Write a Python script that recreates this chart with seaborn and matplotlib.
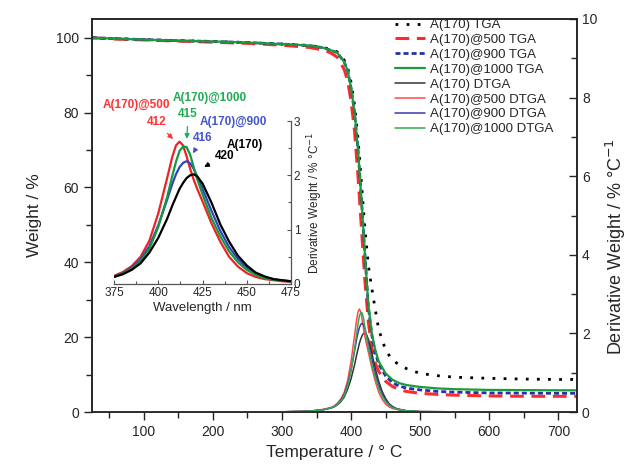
import numpy as np
import pandas as pd
import matplotlib
matplotlib.use('Agg')
import matplotlib.pyplot as plt
from matplotlib.ticker import MultipleLocator
import seaborn as sns

# TGA curves (weight %)
temp_tga = [25, 50, 100, 150, 200, 250, 300, 340, 360, 370, 380, 390, 395, 400, 405, 410,
            415, 420, 425, 430, 435, 440, 450, 460, 470, 480, 500, 525, 550, 600, 650, 700, 727]
tga_a170 = [100, 99.8, 99.5, 99.2, 99.0, 98.7, 98.3, 97.9, 97.4, 96.9, 96.2, 94.0, 92.0, 88.0, 82.0, 73.0,
            61.0, 49.0, 39.0, 33.0, 27.3, 22.0, 16.5, 13.8, 12.6, 11.6, 10.3, 9.7, 9.3, 9.0, 8.8, 8.7, 8.7]
tga_a500 = [100, 99.7, 99.4, 99.1, 98.8, 98.5, 98.0, 97.4, 96.7, 96.0, 94.8, 91.5, 88.5, 83.0, 75.0, 63.0,
            49.0, 35.0, 24.0, 17.0, 13.0, 10.8, 8.2, 6.8, 6.0, 5.5, 5.0, 4.7, 4.5, 4.3, 4.2, 4.2, 4.2]
tga_a900 = [100, 99.8, 99.5, 99.2, 99.0, 98.7, 98.3, 97.9, 97.3, 96.7, 96.0, 93.5, 91.2, 86.5, 80.0, 70.0,
            56.6, 42.0, 28.0, 20.5, 15.8, 12.8, 9.6, 7.8, 6.9, 6.4, 5.9, 5.5, 5.3, 5.1, 5.05, 5.0, 5.0]
tga_a1000 = [100, 99.8, 99.5, 99.2, 99.0, 98.7, 98.3, 97.9, 97.3, 96.7, 96.0, 93.5, 91.2, 86.5, 80.0, 70.0,
             56.6, 42.0, 28.5, 21.0, 16.5, 13.5, 10.3, 8.6, 7.7, 7.2, 6.7, 6.3, 6.1, 5.9, 5.85, 5.8, 5.8]

# DTGA curves (% / °C)
temp_dtga = [25, 100, 200, 300, 340, 360, 370,
             375, 380, 385, 390, 395, 400, 405, 408, 410, 412, 414, 416, 418, 420, 422, 425,
             430, 435, 440, 445, 450, 455, 460, 465, 470, 475,
             480, 490, 500, 550, 600, 650, 700, 727]
dtga_a170 = [0, 0, 0, 0.005, 0.02, 0.06, 0.1,
             0.13, 0.18, 0.26, 0.38, 0.58, 0.85, 1.2, 1.45, 1.6, 1.75, 1.86, 1.95, 2.0, 2.02, 1.98, 1.85,
             1.5, 1.1, 0.78, 0.52, 0.34, 0.21, 0.14, 0.09, 0.07, 0.05,
             0.03, 0.02, 0.01, 0.005, 0, 0, 0, 0]
dtga_a500 = [0, 0, 0, 0.005, 0.02, 0.07, 0.11,
             0.15, 0.22, 0.33, 0.5, 0.8, 1.3, 1.95, 2.35, 2.55, 2.62, 2.55, 2.35, 2.12, 1.92, 1.75, 1.52,
             1.12, 0.78, 0.5, 0.32, 0.2, 0.13, 0.09, 0.07, 0.05, 0.04,
             0.03, 0.02, 0.01, 0.005, 0, 0, 0, 0]
dtga_a900 = [0, 0, 0, 0.005, 0.02, 0.06, 0.1,
             0.13, 0.2, 0.3, 0.45, 0.7, 1.08, 1.55, 1.85, 2.02, 2.15, 2.23, 2.26, 2.22, 2.12, 1.98, 1.75,
             1.35, 0.98, 0.68, 0.46, 0.3, 0.19, 0.12, 0.09, 0.06, 0.05,
             0.03, 0.02, 0.01, 0.005, 0, 0, 0, 0]
dtga_a1000 = [0, 0, 0, 0.005, 0.02, 0.06, 0.1,
              0.13, 0.19, 0.28, 0.42, 0.65, 1.05, 1.6, 2.0, 2.25, 2.45, 2.53, 2.52, 2.38, 2.15, 1.93, 1.65,
              1.22, 0.88, 0.6, 0.4, 0.26, 0.17, 0.11, 0.08, 0.06, 0.05,
              0.03, 0.02, 0.01, 0.005, 0, 0, 0, 0]

sns.set_theme(style='ticks')
plt.rcParams['font.family'] = ['Liberation Sans', 'DejaVu Sans']

fig = plt.figure(figsize=(6.3, 4.69), dpi=100)
ax = fig.add_axes([0.146, 0.1215, 0.77, 0.838])
ax2 = ax.twinx()

# TGA
sns.lineplot(x=temp_tga, y=tga_a170, ax=ax, color='black', lw=2.0, linestyle=(0, (1, 3)),
             label='A(170) TGA', legend=False)
sns.lineplot(x=temp_tga, y=tga_a500, ax=ax, color='#ff2a2a', lw=2.2, linestyle=(0, (4.5, 2.5)),
             label='A(170)@500 TGA', legend=False)
sns.lineplot(x=temp_tga, y=tga_a900, ax=ax, color='#2233aa', lw=2.0, linestyle=(0, (1.8, 1.1)),
             label='A(170)@900 TGA', legend=False)
sns.lineplot(x=temp_tga, y=tga_a1000, ax=ax, color='#1a9a3a', lw=1.6,
             label='A(170)@1000 TGA', legend=False)

# DTGA
dtga_cols = {'A(170) DTGA': ('#333333', dtga_a170),
             'A(170)@500 DTGA': ('#ff4a4a', dtga_a500),
             'A(170)@900 DTGA': ('#3a3aa8', dtga_a900),
             'A(170)@1000 DTGA': ('#33aa55', dtga_a1000)}
for name, (c, vals) in dtga_cols.items():
    sns.lineplot(x=temp_dtga, y=vals, ax=ax2, color=c, lw=1.1, label=name, legend=False)

ax.set_xlim(25, 727)
ax.set_ylim(0, 105)
ax2.set_ylim(0, 10)
ax.xaxis.set_major_locator(MultipleLocator(100))
ax.xaxis.set_minor_locator(MultipleLocator(50))
ax.yaxis.set_major_locator(MultipleLocator(20))
ax.yaxis.set_minor_locator(MultipleLocator(10))
ax2.yaxis.set_major_locator(MultipleLocator(2))
ax2.yaxis.set_minor_locator(MultipleLocator(1))
ax.tick_params(axis='both', which='major', direction='out', length=6, width=1, labelsize=10, color='#222222')
ax.tick_params(axis='both', which='minor', direction='out', length=4, width=1, color='#222222')
ax2.tick_params(axis='y', which='major', direction='in', length=6, width=1, labelsize=10)
ax2.tick_params(axis='y', which='minor', direction='in', length=4, width=1)
for a in (ax, ax2):
    for s in a.spines.values():
        s.set_linewidth(1.1)
        s.set_color('#222222')

ax.set_xlabel('Temperature / ° C', fontsize=12.5)
ax.set_ylabel('Weight / %', fontsize=12.5, labelpad=10)
ax2.set_ylabel('Derivative Weight / % °C$^{-1}$', fontsize=13)
ax2.yaxis.set_label_coords(1.055, 0.42)

h1, l1 = ax.get_legend_handles_labels()
h2, l2 = ax2.get_legend_handles_labels()
ax2.legend(h1 + h2, l1 + l2, loc='upper left', bbox_to_anchor=(395 / 630, 1 - 19 / 469),
           bbox_transform=fig.transFigure, frameon=False, fontsize=9.5, handlelength=2.3,
           handletextpad=0.35, labelspacing=0.2, borderpad=0, borderaxespad=0)

# inset: zoom of DTGA peaks
axi = fig.add_axes([0.181, 0.3945, 0.281, 0.3475])
axi.set_facecolor('none')
inset_cols = [('#ee2222', dtga_a500), ('#3344bb', dtga_a900), ('#119944', dtga_a1000), ('black', dtga_a170)]
for c, vals in inset_cols:
    sns.lineplot(x=temp_dtga, y=vals, ax=axi, color=c, lw=1.6, legend=False)
axi.set_xlim(375, 475)
axi.set_ylim(0, 3)
axi.spines['left'].set_visible(False)
axi.spines['top'].set_visible(False)
for s in ('bottom', 'right'):
    axi.spines[s].set_color('#555555')
    axi.spines[s].set_linewidth(0.9)
axi.yaxis.tick_right()
axi.yaxis.set_label_position('right')
axi.xaxis.set_major_locator(MultipleLocator(25))
axi.xaxis.set_minor_locator(MultipleLocator(12.5))
axi.yaxis.set_major_locator(MultipleLocator(1))
axi.yaxis.set_minor_locator(MultipleLocator(0.5))
axi.tick_params(axis='both', which='major', direction='in', length=3, width=0.8, labelsize=8.5,
                pad=2, color='#555555')
axi.tick_params(axis='both', which='minor', direction='in', length=2, width=0.8, color='#555555')
axi.set_xlabel('Wavelength / nm', fontsize=9.5, labelpad=2)
axi.set_ylabel('Derivative Weight / % °C$^{-1}$', fontsize=8.5)
axi.yaxis.set_label_coords(1.08, 0.5)

kw = dict(fontsize=8.5, fontweight='bold', ha='center', va='center', annotation_clip=False)
axi.annotate('A(170)@500', xy=(387.8, 3.29), xycoords='data', color='#ff3333', **kw)
axi.annotate('412', xy=(409.4, 2.63), xytext=(399.1, 2.98), color='#ff3333',
             arrowprops=dict(arrowstyle='-|>', color='#ff3333', lw=0.9, mutation_scale=7), **kw)
axi.annotate('A(170)@1000', xy=(429.2, 3.43), color='#22aa55', **kw)
axi.annotate('415', xy=(416.0, 2.62), xytext=(416.9, 3.12), color='#22aa55',
             arrowprops=dict(arrowstyle='-|>', color='#22aa55', lw=0.9, mutation_scale=7), **kw)
axi.annotate('A(170)@900', xy=(442.5, 2.98), color='#4455cc', **kw)
axi.annotate('416', xy=(418.8, 2.36), xytext=(424.8, 2.69), color='#4455cc',
             arrowprops=dict(arrowstyle='-|>', color='#4455cc', lw=0.9, mutation_scale=7), **kw)
axi.annotate('A(170)', xy=(448.9, 2.55), color='black', **kw)
axi.annotate('420', xy=(424.5, 2.13), xytext=(437.6, 2.36), color='black',
             arrowprops=dict(arrowstyle='-|>', color='black', lw=0.9, mutation_scale=7), **kw)

fig.savefig('out.png', dpi=100)
